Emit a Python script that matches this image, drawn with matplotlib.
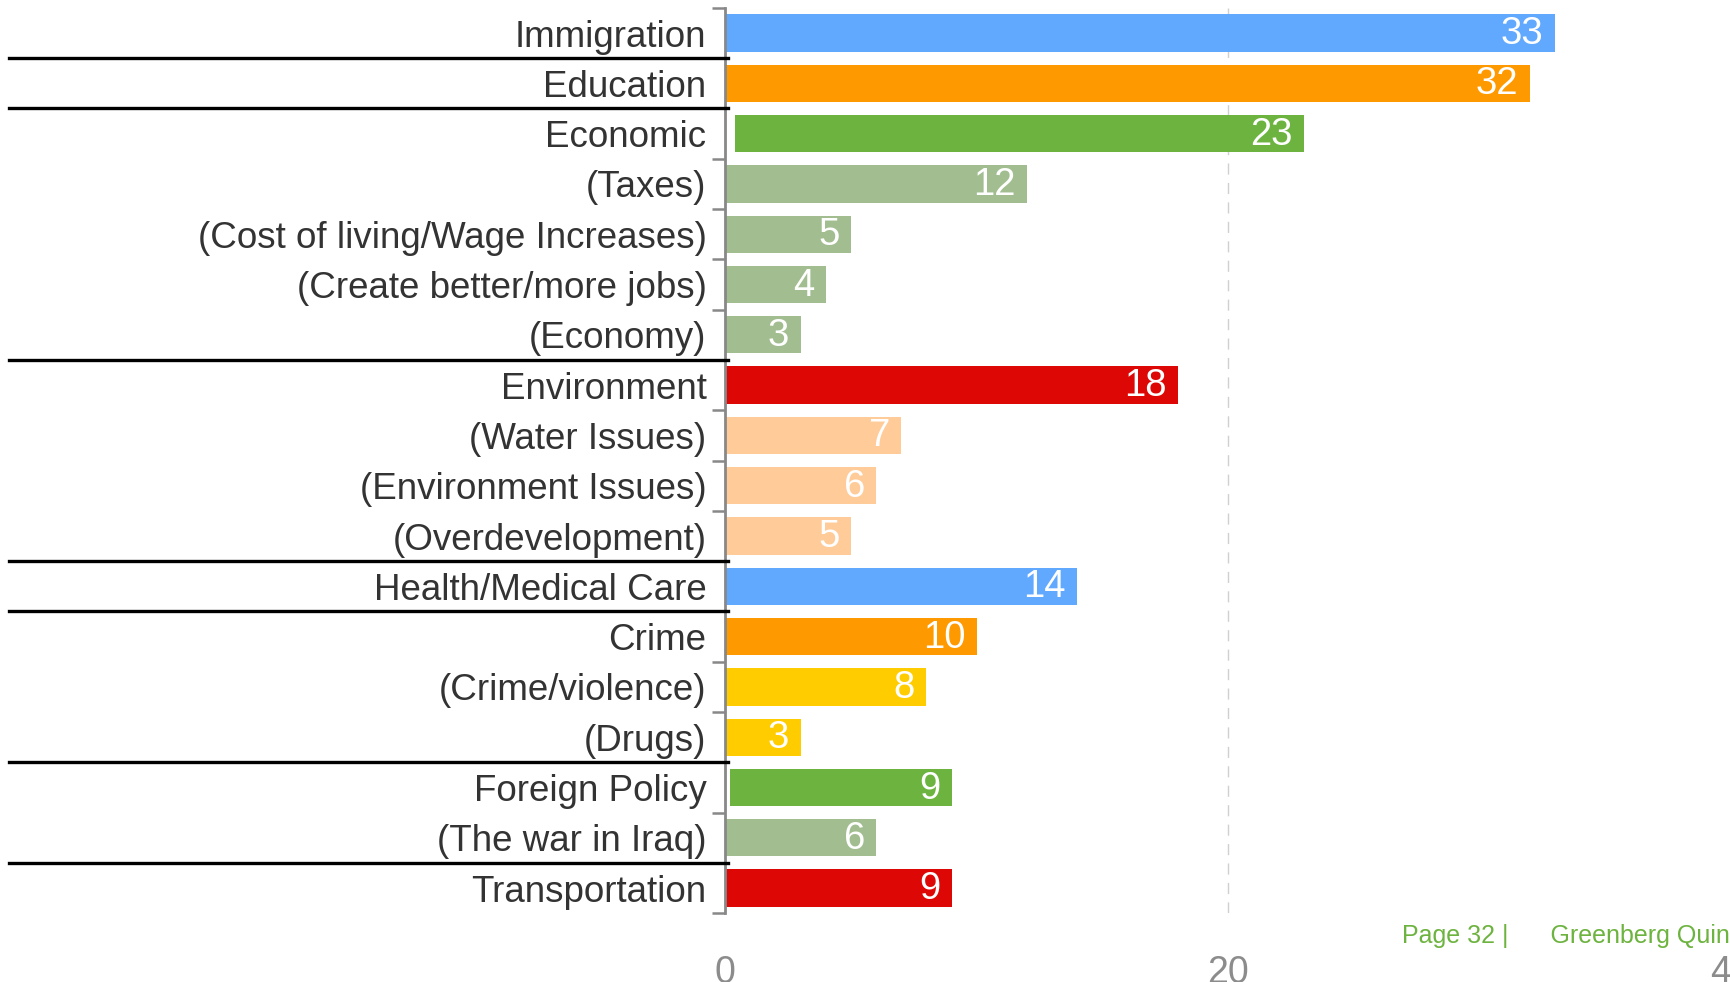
import numpy as np
import matplotlib.pyplot as plt
from matplotlib.transforms import blended_transform_factory

plt.rcParams['font.family'] = ['Liberation Sans', 'DejaVu Sans']

# data, top to bottom
categories = ["Immigration", "Education", "Economic", "(Taxes)",
              "(Cost of living/Wage Increases)", "(Create better/more jobs)",
              "(Economy)", "Environment", "(Water Issues)", "(Environment Issues)",
              "(Overdevelopment)", "Health/Medical Care", "Crime", "(Crime/violence)",
              "(Drugs)", "Foreign Policy", "(The war in Iraq)", "Transportation"]
values = [33, 32, 23, 12, 5, 4, 3, 18, 7, 6, 5, 14, 10, 8, 3, 9, 6, 9]
bar_start = [0, 0, 0.4, 0, 0, 0, 0, 0, 0, 0, 0, 0, 0, 0, 0, 0.2, 0, 0]
colors = ["#61A8FF", "#FF9900", "#6DB33F", "#A2BE91", "#A2BE91", "#A2BE91",
          "#A2BE91", "#DD0806", "#FFCC99", "#FFCC99", "#FFCC99", "#61A8FF",
          "#FF9900", "#FFCC00", "#FFCC00", "#6DB33F", "#A2BE91", "#DD0806"]
# group separators drawn after these rows
separators = [0, 1, 6, 10, 11, 14, 16]
x_ticks = [0, 20, 40]

fig = plt.figure(figsize=(17.31, 9.82), dpi=100)
ax = fig.add_axes([0.419, 0.070, 0.581, 0.922])

y = np.arange(len(categories))
widths = [v - s for v, s in zip(values, bar_start)]
ax.barh(y, widths, left=bar_start, height=0.74, color=colors, zorder=3)

for yi, v in zip(y, values):
    ax.text(v - 0.45, yi + 0.02, str(v), ha="right", va="center", color="white",
            fontsize=27.5, zorder=4)

ax.set_xlim(0, 40)
ax.set_ylim(len(categories) - 0.5, -0.5)

ax.set_yticks(y)
ax.set_yticklabels(categories, fontsize=26.5, color="#333333")
ax.set_yticks(np.arange(len(categories) + 1) - 0.5, minor=True)
ax.tick_params(axis="y", which="major", length=0, pad=13.5)
ax.tick_params(axis="y", which="minor", length=9.5, width=1.8, color="#888888")

ax.set_xticks(x_ticks)
ax.tick_params(axis="x", length=0, pad=30, labelsize=27, labelcolor="#8C8C8C")

for s in ["top", "right", "bottom"]:
    ax.spines[s].set_visible(False)
ax.spines["left"].set_color("#888888")
ax.spines["left"].set_linewidth(2)
ax.spines["left"].set_zorder(5)

ax.axvline(20, color="#D0D0D0", lw=1, ls=(0, (8, 6)), zorder=1)

# black lines between groups, running across the label area
trans = blended_transform_factory(ax.transAxes, ax.transData)
for i in separators:
    ax.plot([-0.712, 0.003], [i + 0.5, i + 0.5], color="black", lw=2.4,
            transform=trans, clip_on=False, zorder=6)

fig.text(0.81, 0.047, "Page 32 |      Greenberg Quinlan Rosner", color="#6DB33F",
         fontsize=18, va="center", ha="left")

fig.savefig("out.png", dpi=100)
